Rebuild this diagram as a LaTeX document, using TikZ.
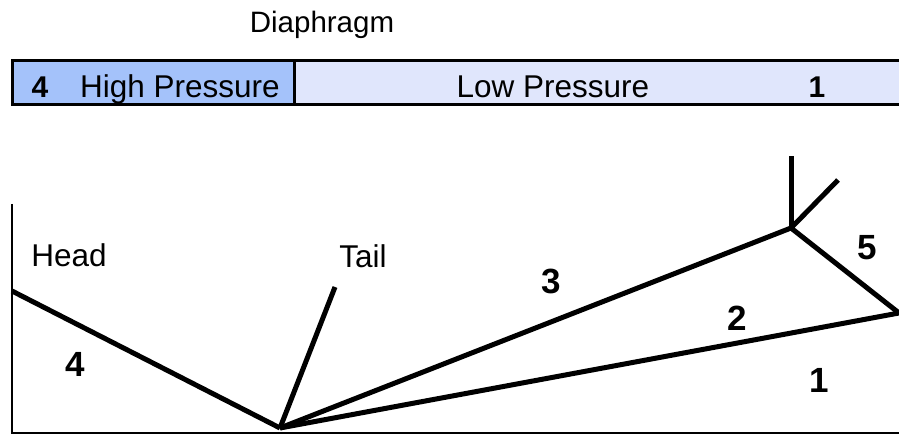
\documentclass[tikz,border=0pt]{standalone}
\usepackage{fontspec}
\setmainfont{Liberation Sans}
\definecolor{highfill}{RGB}{164,194,250}
\definecolor{lowfill}{RGB}{224,230,252}
\begin{document}
\begin{tikzpicture}[x=1pt,y=-1pt,
  txt/.style={font=\fontsize{31.5}{36}\selectfont, inner sep=0pt, anchor=base},
  tubenum/.style={font=\fontsize{30}{34}\selectfont\bfseries, inner sep=0pt, anchor=base},
  region/.style={font=\fontsize{35}{40}\selectfont\bfseries, inner sep=0pt},
  wave/.style={line width=5pt},
  axis/.style={line width=2pt}]
\useasboundingbox (0,0) rectangle (899,435);

% shock tube with diaphragm
\fill[highfill] (12,61) rectangle (294,105);
\fill[lowfill] (294,61) rectangle (899,105);
\draw[line width=3pt] (899,61) -- (12,61) -- (12,105) -- (899,105);
\draw[line width=3pt] (294,61) -- (294,105);
\node[txt, font=\fontsize{29.5}{34}\selectfont] (diaphragm) at (322,33) {Diaphragm};
\node[tubenum] (n4) at (40,98) {4};
\node[txt] (hp) at (180,98) {High Pressure};
\node[txt] (lp) at (553,98) {Low Pressure};
\node[tubenum] (n1) at (817,98) {1};

% x-t axes
\coordinate (ytop) at (12,204);
\coordinate (orig) at (12,433);
\coordinate (xend) at (899,433);
\draw[axis] (ytop) -- (orig) -- (xend);

% wave lines
\coordinate (v) at (280,428);
\coordinate (headend) at (12,291);
\coordinate (tailend) at (335,287);
\coordinate (junc) at (791,228);
\coordinate (wall) at (899,313);
\coordinate (up) at (791,156);
\coordinate (diag) at (838,180);
\draw[wave] (headend) -- (v);
\draw[wave] (v) -- (tailend);
\draw[wave] (v) -- (junc);
\draw[wave] (v) -- (wall);
\draw[wave] (junc) -- (wall);
\draw[wave] (junc) -- (up);
\draw[wave] (junc) -- (diag);

% labels
\node[txt] (head) at (69,267) {Head};
\node[txt] (tail) at (363,268) {Tail};
\node[region] (r4) at (75,364) {4};
\node[region] (r3) at (551,281) {3};
\node[region] (r2) at (737,318) {2};
\node[region] (r5) at (867,248) {5};
\node[region] (r1) at (819,380) {1};
\end{tikzpicture}
\end{document}
